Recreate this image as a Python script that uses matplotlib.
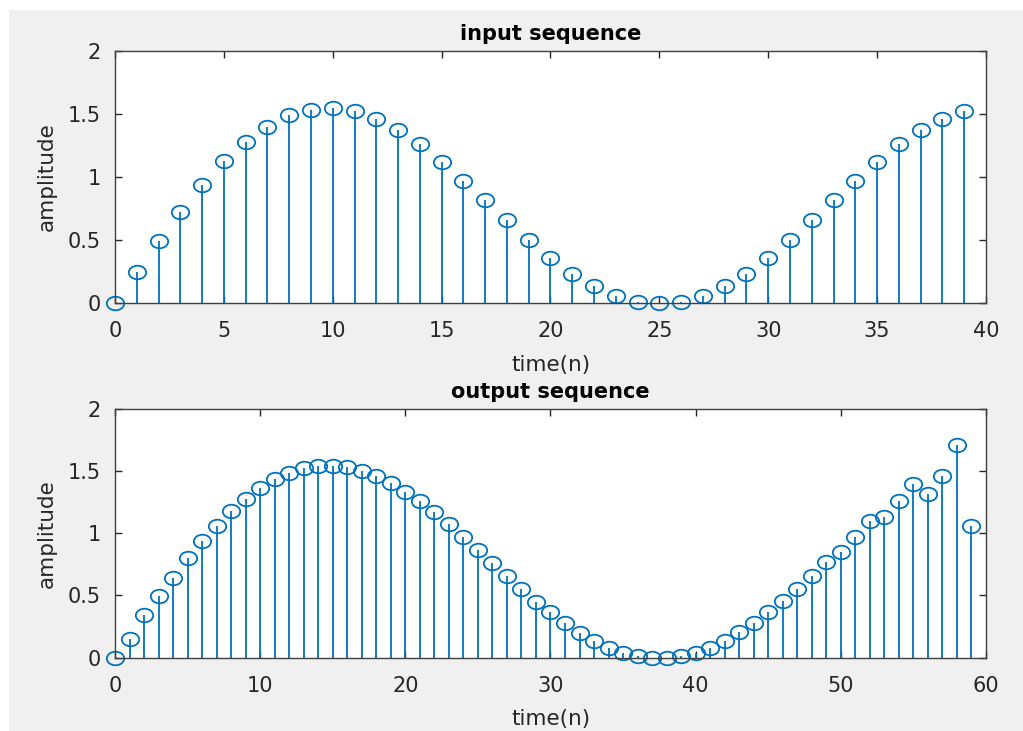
import numpy as np
import matplotlib
matplotlib.use("Agg")
import matplotlib.pyplot as plt
from matplotlib.path import Path
from matplotlib.transforms import Affine2D
from matplotlib.patches import Rectangle

# values
n_in = list(range(40))
x_in = [0.0, 0.246, 0.492, 0.725, 0.937, 1.124, 1.278, 1.399, 1.489, 1.534,
        1.545, 1.526, 1.463, 1.373, 1.259, 1.119, 0.971, 0.815, 0.656, 0.503,
        0.360, 0.233, 0.132, 0.058, 0.011, 0.0, 0.011, 0.058, 0.132, 0.233,
        0.360, 0.503, 0.656, 0.815, 0.971, 1.119, 1.259, 1.373, 1.463, 1.526]

n_out = list(range(60))
y_out = [0.0, 0.147, 0.340, 0.496, 0.643, 0.802, 0.936, 1.059, 1.182, 1.276,
         1.362, 1.437, 1.488, 1.528, 1.544, 1.544, 1.531, 1.501, 1.461, 1.402,
         1.335, 1.260, 1.169, 1.072, 0.973, 0.866, 0.764, 0.657, 0.552, 0.450,
         0.365, 0.276, 0.201, 0.134, 0.080, 0.040, 0.013, 0.0, 0.0, 0.016,
         0.040, 0.080, 0.137, 0.204, 0.279, 0.365, 0.456, 0.552, 0.660, 0.772,
         0.853, 0.971, 1.102, 1.129, 1.260, 1.399, 1.319, 1.464, 1.710, 1.059]

yticks = [0, 0.5, 1, 1.5, 2]
yticklabels = ["0", "0.5", "1", "1.5", "2"]

blue = "#0072bd"
plt.rcParams["font.family"] = "DejaVu Sans"

# the reference is stretched sideways, so the circles are a bit wide
ellipse = Path.unit_circle().transformed(Affine2D().scale(1.28, 1.0))

fig = plt.figure(figsize=(10.23, 7.31), dpi=100, facecolor="white")
fig.add_artist(Rectangle((9 / 1023, 0), 1, 1 - 10 / 731, transform=fig.transFigure,
                         facecolor="#f0f0f0", edgecolor="none", zorder=-10))

ax1 = fig.add_axes([0.1124, 0.5855, 0.8514, 0.3447])
ax2 = fig.add_axes([0.1124, 0.1005, 0.8514, 0.3400])


def stem_plot(ax, n, v, xmax, xstep, title):
    markerline, stemlines, baseline = ax.stem(n, v, basefmt=" ")
    stemlines.set_color(blue)
    stemlines.set_linewidth(1.3)
    markerline.set_marker(ellipse)
    markerline.set_markersize(12.5)
    markerline.set_markerfacecolor("none")
    markerline.set_markeredgecolor(blue)
    markerline.set_markeredgewidth(1.3)
    markerline.set_clip_on(False)
    ax.set_xlim(0, xmax)
    ax.set_ylim(0, 2)
    ax.set_xticks(range(0, xmax + 1, xstep))
    ax.set_yticks(yticks)
    ax.set_yticklabels(yticklabels)
    ax.tick_params(direction="in", length=5, width=1, colors="#262626",
                   labelsize=15, top=True, right=True)
    ax.tick_params(axis="x", pad=13)
    ax.tick_params(axis="y", pad=10)
    for s in ax.spines.values():
        s.set_color("#404040")
        s.set_linewidth(1.0)
    ax.set_xlabel("time(n)", fontsize=15.5, color="#262626", labelpad=10)
    ax.set_ylabel("amplitude", fontsize=15.5, color="#262626", labelpad=8)
    ax.set_title(title, fontsize=15, fontweight="bold", pad=8)


stem_plot(ax1, n_in, x_in, 40, 5, "input sequence")
stem_plot(ax2, n_out, y_out, 60, 10, "output sequence")

fig.savefig("out.png", dpi=100, facecolor=fig.get_facecolor())
